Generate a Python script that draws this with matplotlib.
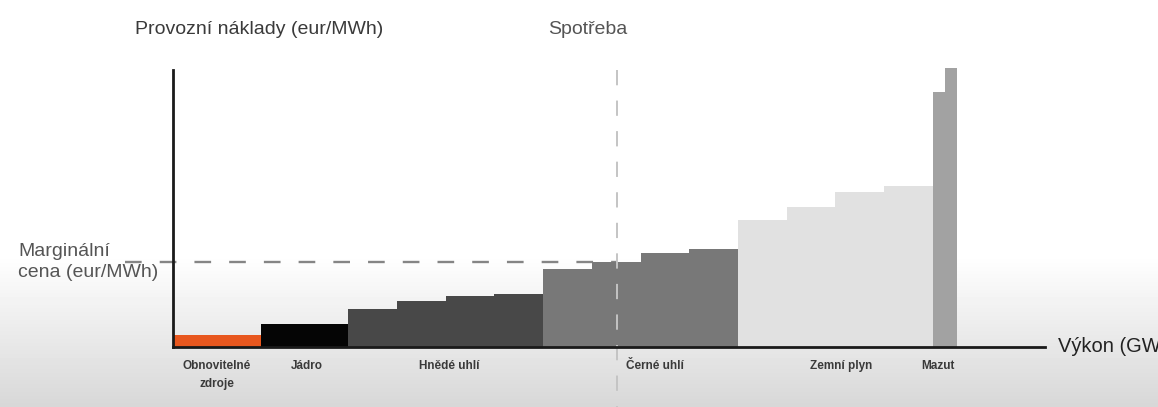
import matplotlib.pyplot as plt
import numpy as np

plt.rcParams['font.family'] = ['Liberation Sans', 'DejaVu Sans']
plt.rcParams['lines.scale_dashes'] = False

# merit order: capacity (GW) and operating cost (eur/MWh) of each block
sources = ["Obnovitelné\nzdroje", "Jádro", "Hnědé uhlí", "Černé uhlí", "Zemní plyn", "Mazut"]
capacity = [
    [1.8],
    [1.8],
    [1.0, 1.0, 1.0, 1.0],
    [1.0, 1.0, 1.0, 1.0],
    [1.0, 1.0, 1.0, 1.0],
    [0.25, 0.25],
]
cost = [
    [4.3],
    [8.3],
    [13.7, 16.6, 18.4, 19.1],
    [28.2, 30.7, 33.9, 35.4],
    [45.8, 50.5, 56.0, 58.1],
    [92.0, 100.7],
]
colors = ["#e8571e", "#050505", "#484848", "#787878", "#e1e1e1", "#a2a2a2"]
label_offset = [0.0, 0.04, 0.08, 0.3, 0.12, -0.14]

demand = 9.12
marginal_price = 30.7

fig = plt.figure(figsize=(11.58, 4.07), dpi=100)

# soft white-to-grey backdrop
bg = fig.add_axes([0, 0, 1, 1], zorder=-10)
rows = np.arange(407)
shade = np.where(rows < 255, 255.0, 255.0 - 40.0 * (rows - 255) / 152.0) / 255.0
bg.imshow(np.tile(shade[:, None], (1, 10)), cmap="gray", vmin=0, vmax=1,
          aspect="auto", extent=[0, 1, 0, 1], origin="upper")
bg.axis("off")

W, H = 1158, 407
ax = fig.add_axes([173 / W, (H - 347) / H, (1045 - 173) / W, (347 - 70) / H])
ax.set_facecolor("none")
ax.set_xlim(0, (1045 - 173) / 48.7)
ax.set_ylim(0, 100)

left = 0.0
for name, caps, costs, col, off in zip(sources, capacity, cost, colors, label_offset):
    start = left
    for c, v in zip(caps, costs):
        ax.bar(left, v, width=c, align="edge", color=col, linewidth=0, zorder=2, clip_on=False)
        left += c
    cx = (start + left) / 2 + off
    ax.text(cx, -4.8, name, ha="center", va="top", fontsize=8.5, fontweight="bold",
            color="#3a3a3a", linespacing=1.6, clip_on=False)

# marginal price and demand guides
ax.plot([-0.99, demand], [marginal_price, marginal_price], color="#858585", lw=1.7,
        dashes=(12, 13), clip_on=False, zorder=1)
ax.plot([demand, demand], [100, -21.7], color="#c4c4c4", lw=1.4,
        dashes=(11, 11), clip_on=False, zorder=3)

for s in ["top", "right"]:
    ax.spines[s].set_visible(False)
for s in ["left", "bottom"]:
    ax.spines[s].set_linewidth(2.0)
    ax.spines[s].set_color("#1a1a1a")
    ax.spines[s].set_zorder(4)
ax.set_xticks([])
ax.set_yticks([])

fig.text(135 / W, 1 - 29 / H, "Provozní náklady (eur/MWh)", fontsize=14, color="#3a3a3a",
         ha="left", va="center")
fig.text(548 / W, 1 - 29 / H, "Spotřeba", fontsize=14, color="#555555",
         ha="left", va="center")
fig.text(18 / W, 1 - 262 / H, "Marginální\ncena (eur/MWh)", fontsize=14, color="#555555",
         ha="left", va="center", linespacing=1.3)
fig.text(1058 / W, 1 - 347 / H, "Výkon (GW)", fontsize=14.5, color="#222222",
         ha="left", va="center")

fig.savefig("out.png", dpi=100)
